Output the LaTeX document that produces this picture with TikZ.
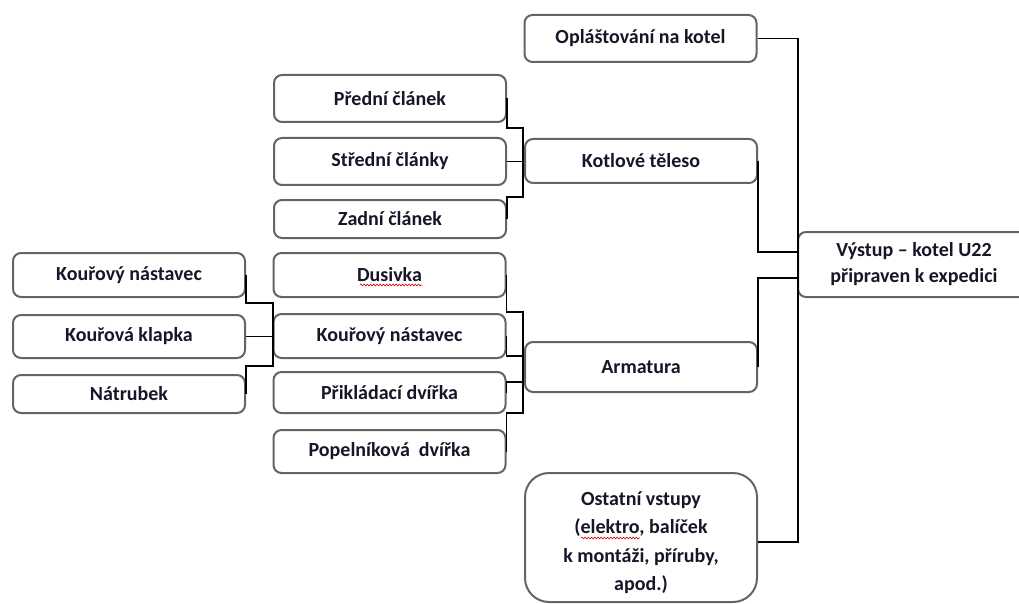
\documentclass[tikz,border=0pt]{standalone}
\usepackage{fontspec}
\setmainfont{Carlito}
\usetikzlibrary{calc,decorations.pathmorphing}

\definecolor{ink}{RGB}{22,22,40}
\definecolor{edge}{RGB}{100,100,100}

\begin{document}
\begin{tikzpicture}[x=1pt,y=-1pt,
  box/.style={draw=edge, line width=2pt, rounded corners=8pt, fill=white,
    text=ink, inner sep=0pt, align=center, minimum width=232pt,
    font=\bfseries\fontsize{20}{26}\selectfont},
  wire/.style={draw=black, line width=1.3pt},
  squiggle/.style={draw=red!85!black, line width=0.6pt, decorate,
    decoration={snake, amplitude=0.9pt, segment length=3.2pt}}]

\useasboundingbox (0,0) rectangle (1019,604);
\clip (0,0) rectangle (1019,604);

% right column: output and its inputs
\node[box, minimum height=47pt] (opl) at (640.5,38.5) {Opláštování na kotel};
\node[box, minimum height=44pt] (kot) at (641,161) {Kotlové těleso};
\node[box, minimum height=50pt] (arm) at (641,367) {Armatura};
\node[box, minimum height=129pt, rounded corners=24pt] (ost) at (641,537.5) {};
\node[text=ink, align=center, font=\bfseries\fontsize{20}{28.5}\selectfont]
  (osttext) at (641,542.5) {Ostatní vstupy\\(elektro, balíček\\k montáži, příruby,\\apod.)};
\node[box, minimum height=65pt] (vys) at (914,264.5) {Výstup – kotel U22\\připraven k expedici};

% boiler body sections
\node[box, minimum height=47pt] (pred) at (390,98.5) {Přední článek};
\node[box, minimum height=47pt] (stred) at (390,161.5) {Střední články};
\node[box, minimum height=38pt] (zadni) at (390,219) {Zadní článek};

% fittings
\node[box, minimum height=44pt] (dus) at (389.5,275) {Dusivka};
\node[box, minimum height=44pt] (kn2) at (389.5,336) {Kouřový nástavec};
\node[box, minimum height=41pt] (prik) at (389.5,392.5) {Přikládací dvířka};
\node[box, minimum height=43pt] (pop) at (389.5,451.5) {Popelníková\ \ dvířka};

% flue attachment parts
\node[box, minimum height=44pt] (kn1) at (129,275) {Kouřový nástavec};
\node[box, minimum height=43pt] (kk) at (129,336.5) {Kouřová klapka};
\node[box, minimum height=38pt] (natr) at (129,394) {Nátrubek};

% spell-check marks
\draw[squiggle] (360,285) -- (422,285);
\draw[squiggle] (581,538) -- (640,538);

% flue parts -> Kouřový nástavec
\coordinate (b1) at (273,303);
\coordinate (b2) at (273,366);
\draw[wire] (kn1.east) |- (b1) -- (b2) -| (natr.east);
\draw[wire] (kk.east) -- (kk.east -| b1);

% sections -> Kotlové těleso
\coordinate (c1) at (523,128);
\coordinate (c2) at (523,197);
\draw[wire] (pred.east) |- (c1) -- (c2) -| (zadni.east);
\draw[wire] (stred.east) -- (stred.east -| kot.west);

% fittings -> Armatura
\coordinate (d1) at (523,312);
\coordinate (d2) at (523,413);
\coordinate (d3) at (523,356);
\coordinate (d4) at (523,382);
\draw[wire] (dus.east) |- (d1) -- (d2) -| (pop.east);
\draw[wire] (kn2.east) |- (d3);
\draw[wire] (prik.east) |- (d4);

% inputs -> Výstup
\coordinate (e1) at (798,542);
\coordinate (e2) at (798,252);
\coordinate (e3) at (798,278);
\draw[wire] (opl.east) -| (e1) -- (e1 -| ost.east);
\draw[wire] (kot.east) |- (e2);
\draw[wire] (arm.east) |- (e3);

\end{tikzpicture}
\end{document}
